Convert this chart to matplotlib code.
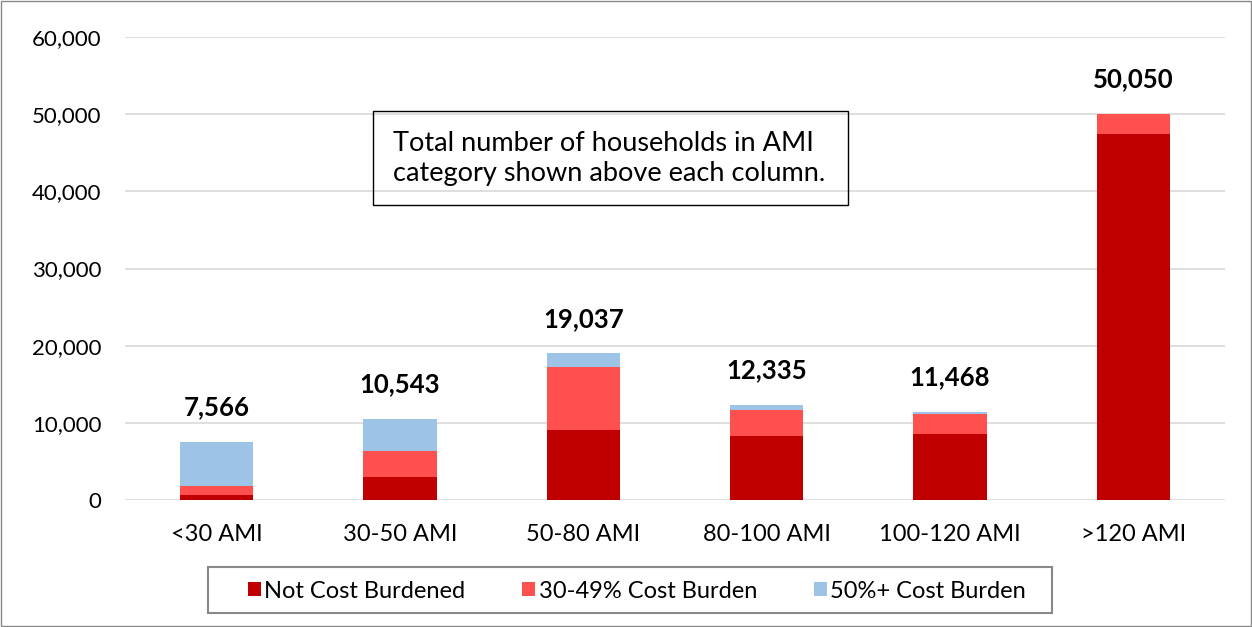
import matplotlib.pyplot as plt
from matplotlib.patches import Rectangle

plt.rcParams['font.family'] = ['Lato', 'DejaVu Sans']

categories = ['<30 AMI', '30-50 AMI', '50-80 AMI', '80-100 AMI', '100-120 AMI', '>120 AMI']
totals = [7566, 10543, 19037, 12335, 11468, 50050]
not_burdened = [650, 3020, 9100, 8330, 8500, 47450]
burden_30_49 = [1200, 3370, 8130, 3290, 2640, 2510]
burden_50 = [t - a - b for t, a, b in zip(totals, not_burdened, burden_30_49)]

c_dark = '#C00000'
c_mid = '#FF5050'
c_blue = '#9DC3E6'

fig = plt.figure(figsize=(12.52, 6.27), dpi=100)
ax = fig.add_axes([125 / 1252, 1 - 500 / 627, 1100 / 1252, 463 / 627])

x = range(len(categories))
w = 0.40
ax.bar(x, not_burdened, w, color=c_dark, label='Not Cost Burdened', zorder=3)
ax.bar(x, burden_30_49, w, bottom=not_burdened, color=c_mid, label='30-49% Cost Burden', zorder=3)
bottoms = [a + b for a, b in zip(not_burdened, burden_30_49)]
ax.bar(x, burden_50, w, bottom=bottoms, color=c_blue, label='50%+ Cost Burden', zorder=3)

# totals above each column
for i, t in enumerate(totals):
    ax.annotate(f'{t:,}', (i, t), xytext=(0, 16), textcoords='offset points',
                ha='center', va='bottom', fontsize=18.5, fontweight='bold')

ax.set_xlim(-0.5, len(categories) - 0.5)
ax.set_ylim(0, 60000)
ax.set_yticks(range(0, 60001, 10000))
ax.set_yticklabels([f'{v:,}' for v in range(0, 60001, 10000)], fontsize=16)
ax.set_xticks(list(x))
ax.set_xticklabels(categories, fontsize=17)
ax.tick_params(length=0)
ax.tick_params(axis='x', pad=17)
ax.tick_params(axis='y', pad=17)
ax.grid(axis='y', color='#D9D9D9', linewidth=1.2, zorder=0)
for s in ax.spines.values():
    s.set_visible(False)

# note box
fig.text(393 / 1252, 1 - 158 / 627,
         'Total number of households in AMI\ncategory shown above each column.',
         fontsize=19.5, ha='left', va='center', linespacing=1.25)
fig.patches.append(Rectangle((373 / 1252, 1 - 205 / 627), 475 / 1252, 94 / 627,
                             transform=fig.transFigure, fill=False, edgecolor='black', linewidth=1))

# legend with its own wider frame
leg = fig.legend(loc='center', bbox_to_anchor=(637 / 1252, 1 - 591 / 627), ncol=3,
                 fontsize=17, frameon=False,
                 handlelength=0.55, handleheight=0.55, handletextpad=0.15, columnspacing=2.4,
                 borderpad=0.5, borderaxespad=0)
fig.patches.append(Rectangle((208 / 1252, 1 - 613 / 627), 844 / 1252, 46 / 627,
                             transform=fig.transFigure, fill=False, edgecolor='#888888',
                             linewidth=1.5))

# outer border
fig.patches.append(Rectangle((0.001, 0.001), 0.998, 0.998, transform=fig.transFigure,
                             fill=False, edgecolor='#888888', linewidth=1))

fig.savefig('out.png', dpi=100)
